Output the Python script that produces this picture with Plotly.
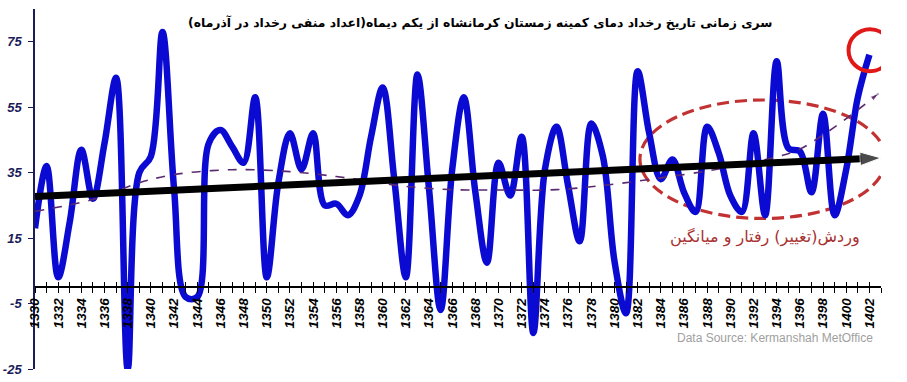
import plotly.graph_objects as go

# ---- data ----
years = list(range(1330, 1403))
days = [18, 37, 3, 20, 42, 27, 44, 64, -25, 35,
        40, 78, 30, -3, -3, 44, 48, 43, 38, 58,
        3, 32, 47, 36, 47, 25, 25.5, 22, 28, 46,
        61, 33, 3, 65, 30, -7, 36, 58, 29, 7.5,
        38, 28, 46, -14, 36, 49, 31, 14, 50, 40,
        8, -8, 66, 47, 33, 39, 29, 23, 49, 41,
        28, 23, 47, 22, 69, 42.5, 41.5, 29, 53, 22,
        36, 58, 71]

trend_x = [1330, 1403]
trend_y = [27.7, 39.5]

poly_x = [1330, 1335, 1339, 1342, 1347, 1352, 1356, 1359, 1362, 1366,
          1370, 1375, 1380, 1384, 1388, 1391, 1394, 1396, 1398, 1400, 1402.8]
poly_y = [23.2, 26.8, 31.9, 34.4, 35.9, 35.3, 33.8, 32.3, 30.8, 29.8,
          29.7, 29.8, 31.5, 33.4, 35.5, 37.5, 39.8, 42.2, 46.5, 51.5, 59.2]

y_ticks = [-25, -5, 15, 35, 55, 75]
y_tick_text = ["-25", "-5", "15", "35", "55", "75"]
x_ticks = list(range(1330, 1403, 2))

title_text = "\u200fسری زمانی تاریخ رخداد دمای کمینه زمستان کرمانشاه از یکم دیماه(اعداد منفی رخداد در آذرماه)\u200f"
note_text = "\u200fوردش(تغییر) رفتار و میانگین\u200f"
source_text = "Data Source: Kermanshah MetOffice"

Y_MIN, Y_MAX = -25, 85
X_MIN, X_MAX = 1330, 1403

fig = go.Figure()

fig.add_trace(go.Scatter(
    x=years, y=days, mode="lines",
    line=dict(color="#0a0ad2", width=6.5, shape="spline", smoothing=1.0),
    showlegend=False, hoverinfo="x+y"))

fig.add_trace(go.Scatter(
    x=poly_x, y=poly_y, mode="lines+markers",
    line=dict(color="#5b2a6e", width=1.6, dash="dash", shape="spline"),
    marker=dict(symbol="arrow", angleref="previous",
                size=[0] * (len(poly_x) - 1) + [9], color="#5b2a6e"),
    showlegend=False, hoverinfo="skip"))

fig.add_trace(go.Scatter(
    x=trend_x, y=trend_y, mode="lines+markers",
    line=dict(color="black", width=7),
    marker=dict(symbol="arrow", angleref="previous", size=[0, 22], color="black"),
    showlegend=False, hoverinfo="skip"))

# invisible trace for the crossing tick marks axis
fig.add_trace(go.Scatter(x=[X_MIN, X_MAX], y=[0, 0], xaxis="x2", mode="lines",
                         line=dict(width=0), showlegend=False, hoverinfo="skip"))

zero_pos = (0 - Y_MIN) / (Y_MAX - Y_MIN)

fig.update_layout(
    width=907, height=382,
    margin=dict(l=35, r=26, t=9, b=13, autoexpand=False),
    paper_bgcolor="white", plot_bgcolor="white",
    xaxis=dict(range=[X_MIN, X_MAX], anchor="free", position=zero_pos,
               tickvals=x_ticks, tickangle=-90,
               ticks="outside", ticklen=5, tickcolor="black",
               minor=dict(dtick=1, tick0=1330, ticks="outside", ticklen=5, tickcolor="black"),
               showline=True, linecolor="black", linewidth=1.5,
               showgrid=False, zeroline=False,
               tickfont=dict(family="Liberation Sans", size=13.5, color="black",
                             weight="bold", style="italic")),
    xaxis2=dict(range=[X_MIN, X_MAX], overlaying="x", anchor="free", position=zero_pos,
                side="bottom", ticks="inside", ticklen=5, tickcolor="black",
                tickvals=list(range(1330, 1404)), showticklabels=False,
                showline=False, showgrid=False, zeroline=False),
    yaxis=dict(range=[Y_MIN, Y_MAX], tickvals=y_ticks, ticktext=y_tick_text,
               ticks="outside", ticklen=5, tickcolor="#1c1c5a",
               showline=True, linecolor="#1c1c5a", linewidth=1.5,
               showgrid=False, zeroline=False, ticklabelstandoff=4,
               tickfont=dict(family="Liberation Sans", size=13, color="#1c1c5a",
                             weight="bold", style="italic")),
    shapes=[
        dict(type="circle", xref="x", yref="y", x0=1382.2, x1=1403.4, y0=21, y1=57.2,
             line=dict(color="#c23232", width=3.2, dash="12px,6px"), layer="below"),
        dict(type="circle", xref="x", yref="y", x0=1400.2, x1=1403.9, y0=66, y1=78.8,
             line=dict(color="#e01818", width=4)),
    ],
    annotations=[
        dict(text=title_text, x=1368.4, y=80.9, xref="x", yref="y", showarrow=False,
             font=dict(family="DejaVu Sans", size=12.4, color="black", weight="bold")),
        dict(text=note_text, x=1393, y=15.2, xref="x", yref="y", showarrow=False,
             font=dict(family="DejaVu Sans", size=16, color="#a83232")),
        dict(text=source_text, x=1402.45, y=-15.6, xref="x", yref="y", showarrow=False,
             xanchor="right",
             font=dict(family="Liberation Sans", size=12, color="#a0a0a0")),
    ],
)

fig.write_html("out.html",
               config={"displayModeBar": False},
               post_script="document.body.style.margin='0';document.body.style.padding='0';")
